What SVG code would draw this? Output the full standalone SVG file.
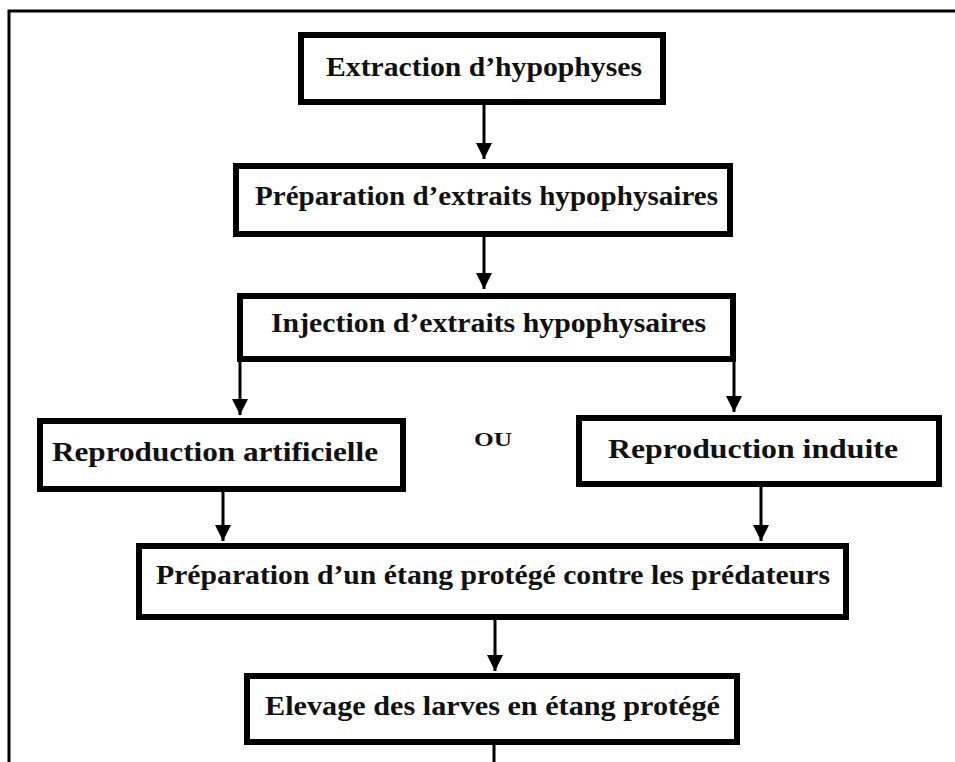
<svg xmlns="http://www.w3.org/2000/svg" width="955" height="762" viewBox="0 0 955 762">
<style>
.box{fill:#fff;stroke:#000;stroke-width:6}
.t{font-family:"Liberation Serif","Times New Roman",serif;font-weight:bold;font-size:28px;fill:#111;text-anchor:middle}
.ou{font-family:"Liberation Serif","Times New Roman",serif;font-weight:bold;font-size:18px;fill:#111;text-anchor:middle}
.c{stroke:#000;stroke-width:3;fill:none}
</style>
<defs>
<marker id="ah" markerUnits="userSpaceOnUse" markerWidth="18" markerHeight="20" refX="16" refY="8" orient="auto">
<path d="M0,0 L16,8 L0,16 Z" fill="#000"/>
</marker>
</defs>
<rect width="955" height="762" fill="#fff"/>
<path d="M9,762 V11 H955" fill="none" stroke="#000" stroke-width="3"/>
<g id="connectors">
<line class="c" x1="484" y1="105" x2="484" y2="159" marker-end="url(#ah)"/>
<line class="c" x1="484" y1="237" x2="484" y2="289" marker-end="url(#ah)"/>
<line class="c" x1="240" y1="362" x2="240" y2="415" marker-end="url(#ah)"/>
<line class="c" x1="734" y1="362" x2="734" y2="412" marker-end="url(#ah)"/>
<line class="c" x1="223" y1="492" x2="223" y2="541" marker-end="url(#ah)"/>
<line class="c" x1="761" y1="487" x2="761" y2="541" marker-end="url(#ah)"/>
<line class="c" x1="495" y1="620" x2="495" y2="671" marker-end="url(#ah)"/>
<line class="c" x1="494" y1="745" x2="494" y2="762"/>
</g>
<g id="n1"><rect class="box" x="301" y="35" width="362" height="67"/><text class="t" x="484" y="76" textLength="316" lengthAdjust="spacingAndGlyphs">Extraction d’hypophyses</text></g>
<g id="n2"><rect class="box" x="236" y="166" width="494" height="68"/><text class="t" x="486.5" y="205" textLength="463" lengthAdjust="spacingAndGlyphs">Préparation d’extraits hypophysaires</text></g>
<g id="n3"><rect class="box" x="240" y="296" width="493" height="63"/><text class="t" x="488.5" y="332" textLength="435" lengthAdjust="spacingAndGlyphs">Injection d’extraits hypophysaires</text></g>
<g id="n4"><rect class="box" x="40" y="421" width="363" height="68"/><text class="t" x="215" y="461" textLength="326" lengthAdjust="spacingAndGlyphs">Reproduction artificielle</text></g>
<g id="ou"><text class="ou" x="493" y="446" textLength="38" lengthAdjust="spacingAndGlyphs">OU</text></g>
<g id="n5"><rect class="box" x="579" y="418" width="360" height="66"/><text class="t" x="753" y="458" textLength="290" lengthAdjust="spacingAndGlyphs">Reproduction induite</text></g>
<g id="n6"><rect class="box" x="139" y="546" width="707" height="71"/><text class="t" x="493" y="584" textLength="674" lengthAdjust="spacingAndGlyphs">Préparation d’un étang protégé contre les prédateurs</text></g>
<g id="n7"><rect class="box" x="247" y="676" width="490" height="66"/><text class="t" x="492.5" y="715" textLength="455" lengthAdjust="spacingAndGlyphs">Elevage des larves en étang protégé</text></g>
</svg>
